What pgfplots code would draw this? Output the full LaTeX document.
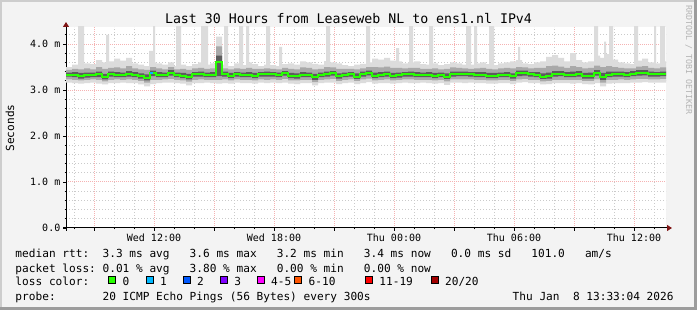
\documentclass[border=0pt]{standalone}
\usepackage{fontspec}
\usepackage{pgfplots}
\pgfplotsset{compat=1.18}
\usepackage{pgfplotstable}
\usepgfplotslibrary{fillbetween}
\usetikzlibrary{arrows.meta}
\newfontfamily\rrd{DejaVu Sans Mono}
\definecolor{canvas}{HTML}{F3F3F3}
\definecolor{shadea}{HTML}{CDCDCD}
\definecolor{shadeb}{HTML}{9C9C9C}
\definecolor{gridgray}{HTML}{CACACA}
\definecolor{gridred}{HTML}{F5B2B2}
\definecolor{arrowred}{HTML}{801515}
\definecolor{smokeL}{HTML}{DCDCDC}
\definecolor{smokeM}{HTML}{A9A9A9}
\definecolor{smokeD}{HTML}{5C5C5C}
\definecolor{loss0}{HTML}{26FF00}
\definecolor{loss1}{HTML}{00B8FF}
\definecolor{loss2}{HTML}{0059FF}
\definecolor{loss3}{HTML}{7E00FF}
\definecolor{loss4}{HTML}{FF00FF}
\definecolor{loss6}{HTML}{FF5500}
\definecolor{loss11}{HTML}{FF0000}
\definecolor{loss20}{HTML}{A10000}
\definecolor{credit}{HTML}{B4B4B4}
\newcommand\titlefont{\rrd\fontsize{13.25}{15}\selectfont}
\newcommand\legfont{\rrd\fontsize{11.13}{13}\selectfont}
\newcommand\tickfont{\rrd\fontsize{10}{12}\selectfont}
\newcommand\creditfont{\rrd\fontsize{8.3}{10}\selectfont}

\pgfplotstableread{
x ll lm ld med hd hm hl
7.6 3.16 3.23 3.29 3.33 3.38 3.44 3.50
7.9 3.15 3.22 3.28 3.33 3.39 3.46 3.55
8.2 3.14 3.21 3.25 3.30 3.37 3.45 3.52
8.5 3.15 3.22 3.27 3.32 3.38 3.47 3.58
8.8 3.16 3.23 3.28 3.33 3.38 3.45 3.56
9.1 3.14 3.22 3.28 3.34 3.40 3.50 3.65
9.4 3.12 3.19 3.23 3.28 3.35 3.46 3.60
9.7 3.15 3.22 3.29 3.34 3.40 3.48 3.62
10.0 3.15 3.23 3.28 3.33 3.39 3.49 3.68
10.3 3.16 3.22 3.28 3.33 3.38 3.47 3.64
10.6 3.15 3.23 3.29 3.35 3.41 3.52 3.70
10.9 3.15 3.22 3.28 3.33 3.39 3.47 3.58
11.2 3.12 3.20 3.25 3.30 3.36 3.45 3.55
11.5 3.08 3.16 3.21 3.27 3.34 3.44 3.52
11.8 3.13 3.22 3.30 3.36 3.42 3.50 3.60
12.1 3.15 3.22 3.28 3.33 3.39 3.47 3.58
12.4 3.16 3.23 3.28 3.33 3.38 3.45 3.55
12.7 3.16 3.24 3.31 3.37 3.43 3.50 3.60
13.0 3.15 3.22 3.28 3.33 3.38 3.45 3.52
13.3 3.14 3.21 3.26 3.31 3.37 3.46 3.55
13.6 3.10 3.18 3.23 3.28 3.35 3.44 3.52
13.9 3.15 3.22 3.29 3.34 3.39 3.47 3.56
14.2 3.15 3.23 3.29 3.34 3.40 3.48 3.60
14.5 3.16 3.22 3.28 3.33 3.38 3.46 3.55
14.8 3.15 3.22 3.28 3.33 3.39 3.47 3.58
15.1 3.14 3.22 3.30 3.60 3.75 3.95 4.16
15.4 3.15 3.23 3.29 3.34 3.40 3.47 3.55
15.7 3.14 3.21 3.26 3.31 3.37 3.45 3.52
16.0 3.16 3.23 3.29 3.34 3.39 3.47 3.58
16.3 3.15 3.22 3.28 3.33 3.38 3.46 3.54
16.6 3.15 3.22 3.28 3.33 3.39 3.48 3.60
16.9 3.14 3.21 3.26 3.31 3.37 3.46 3.56
17.2 3.16 3.23 3.29 3.34 3.39 3.46 3.52
17.5 3.15 3.22 3.29 3.34 3.40 3.47 3.55
17.8 3.16 3.23 3.29 3.34 3.39 3.46 3.54
18.1 3.15 3.22 3.28 3.33 3.38 3.45 3.52
18.4 3.16 3.24 3.31 3.36 3.41 3.48 3.56
18.7 3.14 3.21 3.26 3.31 3.37 3.46 3.58
19.0 3.13 3.21 3.25 3.30 3.36 3.45 3.55
19.3 3.15 3.22 3.28 3.33 3.39 3.49 3.62
19.6 3.15 3.22 3.28 3.33 3.38 3.48 3.60
19.9 3.10 3.17 3.22 3.28 3.35 3.45 3.57
20.2 3.15 3.22 3.28 3.33 3.38 3.46 3.55
20.5 3.16 3.23 3.29 3.34 3.40 3.50 3.63
20.8 3.16 3.24 3.31 3.36 3.41 3.49 3.60
21.1 3.13 3.20 3.25 3.30 3.36 3.46 3.58
21.4 3.15 3.22 3.28 3.33 3.38 3.46 3.54
21.7 3.16 3.23 3.29 3.34 3.39 3.46 3.52
22.0 3.13 3.20 3.24 3.29 3.36 3.45 3.55
22.3 3.15 3.23 3.29 3.34 3.40 3.47 3.57
22.6 3.17 3.25 3.32 3.37 3.42 3.50 3.60
22.9 3.14 3.21 3.26 3.31 3.38 3.50 3.68
23.2 3.15 3.22 3.28 3.33 3.39 3.49 3.66
23.5 3.15 3.23 3.29 3.34 3.40 3.51 3.70
23.8 3.14 3.21 3.26 3.31 3.37 3.48 3.64
24.1 3.15 3.22 3.27 3.32 3.38 3.48 3.62
24.4 3.16 3.23 3.29 3.34 3.39 3.47 3.58
24.7 3.15 3.23 3.29 3.34 3.40 3.48 3.60
25.0 3.15 3.22 3.28 3.33 3.39 3.48 3.62
25.3 3.16 3.22 3.28 3.33 3.38 3.46 3.56
25.6 3.15 3.22 3.28 3.33 3.39 3.46 3.55
25.9 3.14 3.21 3.26 3.31 3.37 3.47 3.58
26.2 3.15 3.22 3.28 3.33 3.38 3.45 3.54
26.5 3.11 3.19 3.24 3.29 3.36 3.46 3.56
26.8 3.16 3.23 3.29 3.34 3.40 3.49 3.60
27.1 3.16 3.23 3.30 3.35 3.40 3.48 3.58
27.4 3.15 3.23 3.30 3.35 3.40 3.47 3.55
27.7 3.16 3.23 3.29 3.34 3.39 3.46 3.55
28.0 3.15 3.22 3.28 3.33 3.39 3.47 3.58
28.3 3.15 3.22 3.28 3.33 3.39 3.48 3.60
28.6 3.14 3.21 3.26 3.31 3.37 3.46 3.56
28.9 3.14 3.21 3.26 3.31 3.37 3.45 3.54
29.2 3.15 3.22 3.28 3.33 3.38 3.47 3.58
29.5 3.15 3.22 3.28 3.33 3.39 3.48 3.60
29.8 3.13 3.20 3.25 3.30 3.36 3.47 3.62
30.1 3.16 3.23 3.30 3.36 3.42 3.50 3.65
30.4 3.17 3.24 3.31 3.37 3.42 3.49 3.58
30.7 3.15 3.22 3.29 3.34 3.39 3.47 3.56
31.0 3.15 3.22 3.28 3.33 3.39 3.48 3.60
31.3 3.12 3.19 3.24 3.29 3.36 3.48 3.62
31.6 3.13 3.20 3.25 3.31 3.38 3.52 3.72
31.9 3.15 3.22 3.29 3.35 3.41 3.53 3.76
32.2 3.15 3.22 3.30 3.35 3.41 3.51 3.70
32.5 3.15 3.22 3.28 3.33 3.39 3.48 3.62
32.8 3.14 3.22 3.28 3.33 3.40 3.52 3.80
33.1 3.15 3.22 3.29 3.35 3.41 3.50 3.65
33.4 3.13 3.20 3.25 3.31 3.37 3.47 3.60
33.7 3.12 3.20 3.25 3.31 3.38 3.48 3.62
34.0 3.15 3.23 3.31 3.37 3.43 3.53 3.75
34.3 3.08 3.16 3.22 3.29 3.37 3.50 3.70
34.6 3.14 3.22 3.28 3.33 3.40 3.52 3.78
34.9 3.15 3.22 3.29 3.34 3.40 3.50 3.66
35.2 3.15 3.23 3.29 3.34 3.40 3.48 3.60
35.5 3.15 3.22 3.28 3.33 3.39 3.47 3.58
35.8 3.16 3.23 3.30 3.35 3.41 3.47 3.56
36.1 3.16 3.24 3.31 3.37 3.43 3.51 3.64
36.4 3.17 3.24 3.32 3.37 3.43 3.52 3.68
36.7 3.16 3.23 3.29 3.34 3.40 3.48 3.60
37.0 3.16 3.23 3.29 3.34 3.39 3.47 3.58
37.3 3.16 3.24 3.30 3.35 3.40 3.49 3.62
37.6 3.16 3.24 3.30 3.35 3.40 3.49 3.62
}\smoke

\begin{document}
\begin{tikzpicture}
\begin{axis}[
  set layers,
  clip mode=individual,
  at={(66pt,82pt)}, anchor=south west,
  scale only axis, width=600pt, height=201pt,
  xmin=7.6, xmax=37.6, ymin=0, ymax=4.37,
  axis lines=left,
  axis line style={black, line width=1pt},
  x axis line style={-{Triangle[width=6pt,length=5pt,color=arrowred]}, shorten >=-6pt, shorten <=-3pt},
  y axis line style={-{Triangle[width=6pt,length=5pt,color=arrowred]}, shorten >=-5pt, shorten <=-3pt},
  xtick={9,12,15,18,21,24,27,30,33,36},
  xticklabels={{},{Wed 12:00},{},{Wed 18:00},{},{Thu 00:00},{},{Thu 06:00},{},{Thu 12:00}},
  minor xtick={8,10,11,13,14,16,17,19,20,22,23,25,26,28,29,31,32,34,35,37},
  ytick={0,1,2,3,4},
  yticklabels={{0.0},{1.0 m},{2.0 m},{3.0 m},{4.0 m}},
  minor ytick={0.2,0.4,0.6,0.8,1.2,1.4,1.6,1.8,2.2,2.4,2.6,2.8,3.2,3.4,3.6,3.8,4.2},
  grid=both,
  major grid style={gridred, dash pattern=on 1pt off 1pt, line width=1pt},
  minor grid style={gridgray, dash pattern=on 1pt off 2pt, line width=1pt},
  tick align=outside,
  major tick length=3pt, minor tick length=1.5pt,
  tick style={black, line width=0.8pt},
  ticklabel style={font=\tickfont},
  xticklabel style={anchor=center, inner sep=0pt, yshift=-6.5pt},
  yticklabel style={anchor=east, inner sep=0pt, xshift=-2.5pt},
]
\begin{pgfonlayer}{axis background}
\fill[shadeb] ([xshift=-66pt,yshift=-82pt]rel axis cs:0,0) rectangle ([xshift=631pt,yshift=228pt]rel axis cs:0,0);
\fill[shadea] ([xshift=-66pt,yshift=-79pt]rel axis cs:0,0) rectangle ([xshift=628pt,yshift=228pt]rel axis cs:0,0);
\fill[canvas] ([xshift=-64pt,yshift=-79pt]rel axis cs:0,0) rectangle ([xshift=628pt,yshift=226pt]rel axis cs:0,0);
\fill[white] (rel axis cs:0,0) rectangle (rel axis cs:1,1);
\end{pgfonlayer}
\addplot[draw=none, name path=hl, const plot, forget plot] table[x=x,y=hl]{\smoke};
\addplot[draw=none, name path=ll, const plot, forget plot] table[x=x,y=ll]{\smoke};
\addplot[draw=none, name path=hm, const plot, forget plot] table[x=x,y=hm]{\smoke};
\addplot[draw=none, name path=lm, const plot, forget plot] table[x=x,y=lm]{\smoke};
\addplot[draw=none, name path=hd, const plot, forget plot] table[x=x,y=hd]{\smoke};
\addplot[draw=none, name path=ld, const plot, forget plot] table[x=x,y=ld]{\smoke};
\addplot[draw=none, name path=sp, const plot, forget plot] coordinates {(7.6,3.45) (8.2,4.5) (8.5,3.45) (9.6,4.2) (9.75,3.45) (11.75,3.85) (11.95,4.5) (12.05,3.45) (13.1,4.5) (13.35,3.45) (14.35,4.5) (14.7,3.45) (15.5,4.5) (15.7,3.45) (16.25,4.5) (16.45,3.45) (16.6,4.5) (16.75,3.45) (17.6,4.5) (17.8,3.45) (18.25,3.94) (18.4,3.45) (20.6,4.5) (20.8,3.45) (22.6,4.5) (22.8,3.45) (24.1,3.91) (24.25,3.45) (24.75,4.5) (24.95,3.45) (25.75,4.5) (25.95,3.45) (27.6,4.5) (27.85,3.45) (28.0,4.5) (28.15,3.45) (28.75,4.5) (29.0,3.45) (30.2,3.94) (30.3,3.45) (34.0,4.5) (34.2,3.45) (34.5,4.05) (34.6,3.45) (34.75,4.5) (34.95,3.45) (36.0,4.5) (36.2,3.45) (37.0,4.5) (37.1,3.45) (37.3,4.5) (37.55,3.45) (37.6,3.45)};
\addplot[draw=none, name path=spb, forget plot] coordinates {(7.6,3.45) (37.6,3.45)};
\addplot[fill=smokeL, draw=none] fill between[of=hl and ll];
\addplot[fill=smokeL, draw=none] fill between[of=sp and spb];
\addplot[fill=smokeM, draw=none] fill between[of=hm and lm];
\addplot[fill=smokeD, draw=none] fill between[of=hd and ld];
\addplot[const plot, loss0, line width=2pt] table[x=x,y=med]{\smoke};
\addplot[const plot, loss1, line width=2pt] coordinates {(11.8,3.36) (11.95,3.36)};
\end{axis}
\begin{scope}[x=1pt,y=1pt]
\node[anchor=base, inner sep=0pt] at (348.5,286) {\titlefont Last 30 Hours from Leaseweb NL to ens1.nl IPv4};
\node[rotate=90, inner sep=0pt] at (10,182) {\legfont Seconds};
\node[rotate=-90, inner sep=0pt, text=credit] at (688.7,250) {\creditfont RRDTOOL / TOBI OETIKER};
\node[anchor=base west, inner sep=0pt] at (15.3,52.3) {\legfont median~rtt:~~3.3~ms~avg~~~3.6~ms~max~~~3.2~ms~min~~~3.4~ms~now~~~0.0~ms~sd~~~101.0~~~am/s};
\node[anchor=base west, inner sep=0pt] at (15.3,37.6) {\legfont packet~loss:~0.01~\%~avg~~~3.80~\%~max~~~0.00~\%~min~~~0.00~\%~now};
\node[anchor=base west, inner sep=0pt] at (15.3,24.5) {\legfont loss~color:};
\foreach \bx/\col/\lab in {108.3/loss0/0, 145.7/loss1/1, 182.7/loss2/2, 220/loss3/3, 256.7/loss4/4-5, 294.3/loss6/6-10, 365/loss11/11-19, 430.7/loss20/20\slash 20}{
  \filldraw[fill=\col, draw=black, line width=1pt] (\bx+0.5,26.5) rectangle (\bx+7.5,33.5);
  \node[anchor=base west, inner sep=0pt] at (\bx+14.2,24.5) {\legfont \lab};
}
\node[anchor=base west, inner sep=0pt] at (15.3,9.5) {\legfont probe:~~~~~~~20~ICMP~Echo~Pings~(56~Bytes)~every~300s};
\node[anchor=base west, inner sep=0pt] at (512.5,9.5) {\legfont Thu~Jan~~8~13:33:04~2026};
\end{scope}
\pgfresetboundingbox
\useasboundingbox (0,0) rectangle (697pt,310pt);
\end{tikzpicture}
\end{document}
